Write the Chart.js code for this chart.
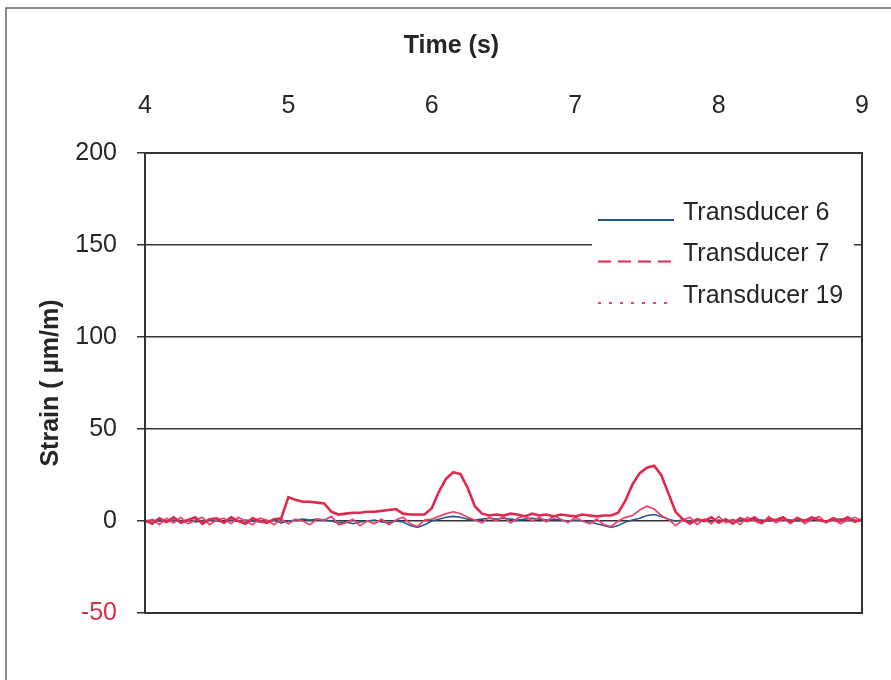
<!DOCTYPE html>
<html>
<head>
<meta charset="utf-8">
<script src="https://cdn.jsdelivr.net/npm/chart.js@4.4.1/dist/chart.umd.min.js"></script>
<style>
  html, body { margin: 0; padding: 0; background: #fff; }
  canvas { display: block; }
</style>
</head>
<body>
<canvas id="c" width="891" height="680"></canvas>
<script>
// ---- data ----
const timeS = [
  4.00,4.05,4.10,4.15,4.20,4.25,4.30,4.35,4.40,4.45,
  4.50,4.55,4.60,4.65,4.70,4.75,4.80,4.85,4.90,4.95,
  5.00,5.05,5.10,5.15,5.20,5.25,5.30,5.35,5.40,5.45,
  5.50,5.55,5.60,5.65,5.70,5.75,5.80,5.85,5.90,5.95,
  6.00,6.05,6.10,6.15,6.20,6.25,6.30,6.35,6.40,6.45,
  6.50,6.55,6.60,6.65,6.70,6.75,6.80,6.85,6.90,6.95,
  7.00,7.05,7.10,7.15,7.20,7.25,7.30,7.35,7.40,7.45,
  7.50,7.55,7.60,7.65,7.70,7.75,7.80,7.85,7.90,7.95,
  8.00,8.05,8.10,8.15,8.20,8.25,8.30,8.35,8.40,8.45,
  8.50,8.55,8.60,8.65,8.70,8.75,8.80,8.85,8.90,8.95,
  9.00
];

const transducer6 = [
  0,0.5,0,-0.5,0.5,0,0.5,-0.5,0,0.5,
  0,-0.5,0.5,0,0.5,0,-0.5,0,0.5,-1,
  0,0.5,1,0.5,1,0.5,0,-1,-0.5,-1.5,
  -0.5,0,0.5,-0.5,-1,0,-0.5,-2.5,-3.5,-2,
  0,1,2,2.5,2,1,0.5,1,1.5,1,
  1.5,1,0.5,1,1.5,1,0.5,1,0.5,0,
  0.5,0,-0.5,-1.5,-2.5,-3.5,-2.5,-0.5,0.5,1.5,
  3,3.5,2.5,1,0,0.5,0,0.5,0,-0.5,
  0.5,0,0.5,0,0.5,1,0.5,0,0.5,1,
  0.5,0,0.5,1,0.5,0,0.5,1,0.5,0.5,
  0
];

const transducer7 = [
  0.5,-1.5,1.5,-0.5,2,-1,0.5,2,-1.5,1,
  1.5,-1,2,0,-1.5,1.5,0,-1,1,1.5,
  13,11.5,10.5,10.5,10,9.5,5,3.5,4,4.5,
  4.5,5,5,5.5,6,6.5,4,3.5,3.5,3.5,
  7,16,23,26.5,25.5,18,8,4,3,3.5,
  3,4,3.5,2.5,4,3,3.5,2.5,3.5,3,
  2.5,3.5,3,2.5,3,3,4.5,11,20,26,
  29,30,25,15,5,1,-1.5,1,0,2,
  -1,1,-1.5,1.5,0,2,-1,1,0.5,2,
  -1,1.5,0,2,0.5,-0.5,1.5,0,2,-0.5,
  1
];

const transducer19 = [
  -1,1,-2,1.5,-1,2,-1.5,0.5,2,-2,
  0.5,1.5,-1.5,2,0,-2,1.5,0.5,-2,1,
  -1.5,1,0,-2,1,0.5,2.5,-2,-1,1,
  -2.5,0,-1.5,1,-2,0.5,2,-1.5,-3,0.5,
  1,2.5,4,5,4,2,0.5,-1,2,0,
  2.5,-1,1.5,3,0,2,-0.5,3,1,-1,
  2,0,-1.5,1,-2,-3,0,2,3,6,
  8,6.5,3,1,-2.5,0.5,2,-2,1,-1.5,
  2.5,-1,1,-2,2,0,-1.5,2.5,-1,1,
  -0.5,2,-1.5,1,2.5,-1,1,-1.5,0.5,2,
  0
];

const seriesLabels = ['Transducer 6', 'Transducer 7', 'Transducer 19'];
const xTickValues = [4, 5, 6, 7, 8, 9];
const yTickValues = [-50, 0, 50, 100, 150, 200];

// ---- styling ----
const FONT = "'Liberation Sans', Arial, Helvetica, sans-serif";
const BLUE = '#2a5592';
const RED = '#e0294f';
const RED2 = '#e8456a';

function pairs(vals) { return timeS.map((t, i) => ({ x: t, y: vals[i] })); }

const bgPlugin = {
  id: 'bg',
  beforeDraw(chart) {
    const ctx = chart.ctx;
    ctx.save();
    ctx.fillStyle = '#fff';
    ctx.fillRect(0, 0, chart.width, chart.height);
    ctx.restore();
  }
};

const legendPlugin = {
  id: 'inLegend',
  afterDatasetsDraw(chart) {
    const ctx = chart.ctx;
    const a = chart.chartArea;
    const x0 = a.right - 270;   // white box
    const y0 = a.top + 43;
    ctx.save();
    ctx.fillStyle = '#fff';
    ctx.fillRect(x0, y0, 262, 120);
    ctx.font = '25px ' + FONT;
    ctx.textBaseline = 'middle';
    ctx.textAlign = 'left';
    chart.data.datasets.forEach((ds, i) => {
      const ty = a.top + 60 + i * 41.5;
      ctx.strokeStyle = ds.borderColor;
      ctx.lineWidth = ds.legendWidth;
      ctx.lineCap = 'butt';
      ctx.setLineDash(ds.legendDash);
      ctx.beginPath();
      ctx.moveTo(x0 + 6, ty + 7);
      ctx.lineTo(x0 + 82, ty + 7);
      ctx.stroke();
      ctx.setLineDash([]);
      ctx.fillStyle = '#262626';
      ctx.fillText(ds.label, x0 + 91, ty);
    });
    ctx.restore();
  }
};

const framePlugin = {
  id: 'frames',
  afterDraw(chart) {
    const ctx = chart.ctx;
    const a = chart.chartArea;
    ctx.save();
    ctx.strokeStyle = '#333';
    ctx.lineWidth = 2;
    ctx.strokeRect(a.left, a.top, a.right - a.left, a.bottom - a.top);
    // outer picture frame (left and top edges visible)
    ctx.strokeStyle = '#666';
    ctx.lineWidth = 1.5;
    ctx.beginPath();
    ctx.moveTo(6, chart.height + 2);
    ctx.lineTo(6, 8);
    ctx.lineTo(chart.width + 2, 8);
    ctx.stroke();
    ctx.restore();
  }
};

// trailing no-break spaces shift the centred title left, as in the reference
const xTitle = 'Time (s)' + '\u00a0'.repeat(15);

new Chart(document.getElementById('c'), {
  type: 'line',
  data: {
    datasets: [
      { label: seriesLabels[0], data: pairs(transducer6), borderColor: BLUE, borderWidth: 1.6,
        pointRadius: 0, tension: 0, order: 3, legendDash: [], legendWidth: 2 },
      { label: seriesLabels[1], data: pairs(transducer7), borderColor: RED, borderWidth: 2.6,
        pointRadius: 0, tension: 0, order: 1, legendDash: [13, 7], legendWidth: 2 },
      { label: seriesLabels[2], data: pairs(transducer19), borderColor: RED2, borderWidth: 1.7,
        pointRadius: 0, tension: 0, order: 2, legendDash: [3, 8], legendWidth: 2 }
    ]
  },
  options: {
    responsive: false,
    animation: false,
    devicePixelRatio: 1,
    layout: { padding: { left: 10, top: 10, right: 29, bottom: 67 } },
    plugins: { legend: { display: false }, tooltip: { enabled: false } },
    scales: {
      x: {
        type: 'linear',
        position: 'top',
        min: 4, max: 9,
        afterBuildTicks(s) { s.ticks = xTickValues.map(v => ({ value: v })); },
        afterFit(s) { s.height = 143; s.paddingLeft = 0; s.paddingRight = 0; },
        grid: { display: false, drawTicks: false },
        border: { display: false },
        ticks: { color: '#262626', font: { family: FONT, size: 25 }, padding: 32, maxRotation: 0 },
        title: { display: true, text: xTitle, color: '#262626',
                 font: { family: FONT, size: 25, weight: 'bold' }, padding: { top: 21, bottom: 0 } }
      },
      y: {
        type: 'linear',
        min: -50, max: 200,
        afterBuildTicks(s) { s.ticks = yTickValues.map(v => ({ value: v })); },
        afterFit(s) { s.width = 135; },
        grid: { color: '#333', lineWidth: 1.5, drawTicks: true, tickLength: 8, tickColor: '#333' },
        border: { display: false },
        ticks: {
          font: { family: FONT, size: 25 },
          padding: 20,
          color: (c) => (c.tick && c.tick.value < 0) ? '#d5304a' : '#262626'
        },
        title: { display: true, text: 'Strain ( \u00b5m/m)', color: '#262626',
                 font: { family: FONT, size: 25, weight: 'bold' }, padding: { top: 26, bottom: 0 } }
      }
    }
  },
  plugins: [bgPlugin, legendPlugin, framePlugin]
});
</script>
</body>
</html>
